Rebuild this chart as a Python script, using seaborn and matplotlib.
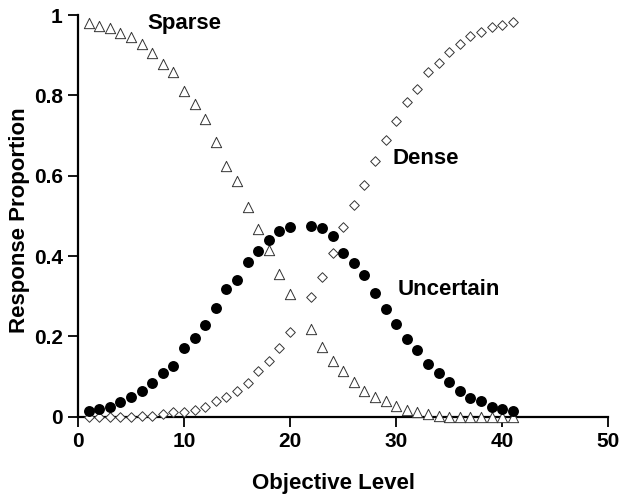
import matplotlib
matplotlib.use("Agg")
import matplotlib.pyplot as plt
import seaborn as sns

# objective levels (21 missing in the source)
level = list(range(1, 21)) + list(range(22, 42))

sparse = [0.979, 0.972, 0.968, 0.956, 0.945, 0.927, 0.906, 0.877, 0.857, 0.812,
          0.778, 0.740, 0.684, 0.625, 0.588, 0.523, 0.467, 0.415, 0.356, 0.306,
          0.219, 0.175, 0.138, 0.114, 0.086, 0.064, 0.049, 0.040, 0.027, 0.017,
          0.012, 0.007, 0.003, 0.0, 0.0, 0.0, 0.0, 0.0, 0.0, 0.0]

uncertain = [0.015, 0.020, 0.025, 0.038, 0.049, 0.064, 0.085, 0.109, 0.127, 0.171,
             0.196, 0.229, 0.272, 0.318, 0.341, 0.386, 0.412, 0.439, 0.463, 0.473,
             0.474, 0.470, 0.449, 0.408, 0.383, 0.354, 0.307, 0.268, 0.230, 0.194,
             0.167, 0.131, 0.108, 0.086, 0.064, 0.047, 0.039, 0.025, 0.020, 0.015]

dense = [0.0, 0.0, 0.0, 0.0, 0.0, 0.001, 0.002, 0.007, 0.012, 0.012,
         0.017, 0.025, 0.039, 0.050, 0.064, 0.085, 0.113, 0.138, 0.172, 0.212,
         0.299, 0.348, 0.407, 0.472, 0.526, 0.578, 0.636, 0.688, 0.737, 0.784,
         0.817, 0.858, 0.881, 0.908, 0.927, 0.947, 0.957, 0.970, 0.976, 0.982]

x_ticks = [0, 10, 20, 30, 40, 50]
y_ticks = [0, 0.2, 0.4, 0.6, 0.8, 1.0]
y_tick_labels = ["0", "0.2", "0.4", "0.6", "0.8", "1"]

sns.set_style("ticks")
plt.rcParams['font.family'] = ['Liberation Sans', 'DejaVu Sans']
plt.rcParams['font.weight'] = 'bold'
for key in ['text.color', 'axes.labelcolor', 'xtick.color', 'ytick.color', 'axes.edgecolor']:
    plt.rcParams[key] = 'black'

fig = plt.figure(figsize=(6.29, 5.01), dpi=100)
ax = fig.add_axes([0.124, 0.168, 0.843, 0.802])

sns.scatterplot(x=level, y=sparse, marker="^", s=55, facecolor="white",
                edgecolor="#333333", linewidth=0.7, ax=ax, zorder=3)
sns.scatterplot(x=level, y=dense, marker="D", s=24, facecolor="white",
                edgecolor="#333333", linewidth=0.7, ax=ax, zorder=3)
sns.scatterplot(x=level, y=uncertain, marker="o", s=62, color="black",
                edgecolor="black", linewidth=0, ax=ax, zorder=4)

ax.text(6.5, 0.98, "Sparse", fontsize=16, fontweight="bold", va="center")
ax.text(29.7, 0.642, "Dense", fontsize=16, fontweight="bold", va="center")
ax.text(30.1, 0.316, "Uncertain", fontsize=16, fontweight="bold", va="center")

ax.set_xlim(0, 50)
ax.set_ylim(0, 1)
ax.set_xticks(x_ticks)
ax.set_yticks(y_ticks)
ax.set_yticklabels(y_tick_labels)
ax.tick_params(length=7, width=1.3, labelsize=15, pad=4)
for lab in ax.get_xticklabels() + ax.get_yticklabels():
    lab.set_fontweight("bold")

sns.despine(ax=ax)
for sp in ["left", "bottom"]:
    ax.spines[sp].set_linewidth(1.6)

ax.set_xlabel("Objective Level", fontsize=16, fontweight="bold")
ax.set_ylabel("Response Proportion", fontsize=16, fontweight="bold")
ax.xaxis.set_label_coords(0.482, -0.14)
ax.yaxis.set_label_coords(-0.091, 0.49)

for c in ax.collections:
    c.set_clip_on(False)

fig.savefig("out.png", dpi=100)
